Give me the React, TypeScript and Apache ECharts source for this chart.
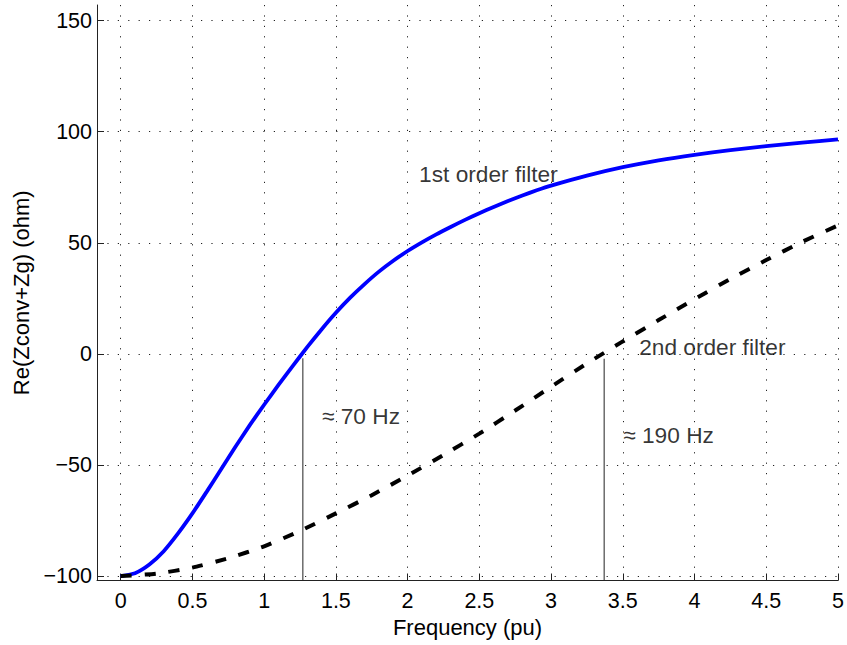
import React, { useEffect, useRef } from "react";
import * as echarts from "echarts";

// Axis ticks
const xTicks = [0, 0.5, 1, 1.5, 2, 2.5, 3, 3.5, 4, 4.5, 5];
const yTicks = [-100, -50, 0, 50, 100, 150];

// 1st order filter (solid blue)
const freq1 = [0, 0.1, 0.2, 0.3, 0.4, 0.5, 0.6, 0.7, 0.8, 0.9, 1.0, 1.1, 1.2, 1.3, 1.4, 1.5, 1.6, 1.7, 1.8, 1.9, 2.0, 2.1, 2.2, 2.3, 2.4, 2.5, 2.6, 2.7, 2.8, 2.9, 3.0, 3.25, 3.5, 3.75, 4.0, 4.25, 4.5, 4.75, 5.0];
const re1 = [-100, -98.7, -94.8, -88.8, -80.8, -71.8, -62.0, -51.9, -41.8, -32.1, -22.9, -14.0, -5.4, 3.0, 11.0, 18.5, 25.3, 31.4, 37.0, 41.9, 46.3, 50.2, 53.8, 57.1, 60.3, 63.3, 66.1, 68.8, 71.3, 73.6, 75.7, 80.2, 84.0, 87.1, 89.6, 91.7, 93.5, 95.1, 96.5];

// 2nd order filter (dashed black)
const freq2 = [0, 0.25, 0.5, 0.75, 1.0, 1.25, 1.5, 1.75, 2.0, 2.25, 2.5, 2.75, 3.0, 3.25, 3.5, 3.75, 4.0, 4.25, 4.5, 4.75, 5.0];
const re2 = [-100, -98.9, -96.2, -92.0, -86.6, -79.7, -71.8, -63.6, -54.8, -45.5, -35.9, -25.5, -14.8, -4.3, 5.6, 15.2, 24.6, 33.7, 42.2, 50.4, 57.8];

// Zero-crossing markers
const crossFreq = [1.27, 3.37];
const crossTop = [-2, -2.2];

// Text annotations (data coordinates)
const annotTexts = ["1st order filter", "2nd order filter", "\u2248 70 Hz", "\u2248 190 Hz"];
const annotX = [2.08, 3.614, 1.403, 3.503];
const annotY = [81.1, 2.9, -28.1, -36.6];

const X_MIN = -0.165;
const X_MAX = 5;
const Y_MIN = -102;
const Y_MAX = 157;

const FONT = "'Liberation Sans', Arial, Helvetica, sans-serif";

const fmtNum = (v: number) => String(v).replace("-", "\u2212");

export default function App() {
  const ref = useRef<HTMLDivElement>(null);

  useEffect(() => {
    if (!ref.current) return;
    const chart = echarts.init(ref.current, null, { renderer: "svg" });

    const dotted = { type: [1.2, 9.2] as any, color: "#222", width: 1 };

    const series: any[] = [
      {
        type: "line",
        name: "1st",
        data: freq1.map((f, i) => [f, re1[i]]),
        showSymbol: false,
        smooth: 0.2,
        lineStyle: { color: "#0000ff", width: 3.8 },
        z: 3,
      },
      {
        type: "line",
        name: "2nd",
        data: freq2.map((f, i) => [f, re2[i]]),
        showSymbol: false,
        smooth: 0.2,
        lineStyle: { color: "#000", width: 4, type: [11, 13] },
        z: 3,
      },
    ];

    crossFreq.forEach((f, i) => {
      series.push({
        type: "line",
        data: [
          [f, crossTop[i]],
          [f, Y_MIN],
        ],
        showSymbol: false,
        lineStyle: { color: "#222", width: 1 },
        z: 2,
      });
    });

    annotTexts.forEach((t, i) => {
      series.push({
        type: "scatter",
        data: [[annotX[i], annotY[i]]],
        symbolSize: 0,
        silent: true,
        label: {
          show: true,
          formatter: t,
          position: [0, 0],
          align: "left",
          verticalAlign: "middle",
          color: "#000",
          fontSize: 22.7,
          fontFamily: FONT,
        },
        z: 4,
      });
    });

    chart.setOption({
      animation: false,
      backgroundColor: "#fff",
      grid: { left: 97, right: 9, top: 5, bottom: 64.5, containLabel: false },
      xAxis: {
        type: "value",
        min: X_MIN,
        max: X_MAX,
        name: "Frequency (pu)",
        nameLocation: "middle",
        nameGap: 36,
        nameTextStyle: { fontSize: 22, fontFamily: FONT, color: "#000" },
        axisLine: { onZero: false, lineStyle: { color: "#222", width: 1 } },
        axisTick: { show: true, inside: true, length: 7, customValues: xTicks, lineStyle: { color: "#222" } },
        axisLabel: { customValues: xTicks, margin: 9, fontSize: 21.5, fontFamily: FONT, color: "#000", formatter: (v: number) => fmtNum(v) },
        splitLine: { show: true, lineStyle: dotted },
      },
      yAxis: {
        type: "value",
        min: Y_MIN,
        max: Y_MAX,
        name: "Re(Zconv+Zg) (ohm)",
        nameLocation: "middle",
        nameGap: 62,
        nameTextStyle: { fontSize: 22, fontFamily: FONT, color: "#000" },
        axisLine: { show: true, onZero: false, lineStyle: { color: "#222", width: 1 } },
        axisTick: { show: true, inside: true, length: 7, customValues: yTicks, lineStyle: { color: "#222" } },
        axisLabel: { customValues: yTicks, margin: 5, fontSize: 21.5, fontFamily: FONT, color: "#000", formatter: (v: number) => fmtNum(v) },
        splitLine: { show: true, lineStyle: dotted },
      },
      series,
    });

    return () => chart.dispose();
  }, []);

  return (
    <div
      ref={ref}
      style={{ position: "absolute", left: 0, top: 0, width: 847, height: 645, background: "#fff" }}
    />
  );
}
